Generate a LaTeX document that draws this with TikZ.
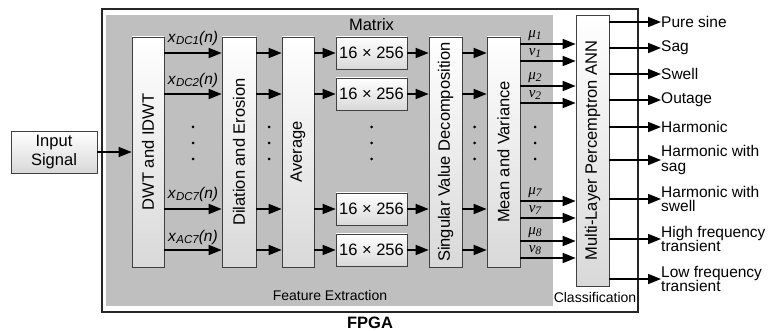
\documentclass[tikz,border=0pt]{standalone}
\usepackage{fontspec}
\setmainfont{Liberation Sans}
\newfontfamily\serifit{Liberation Serif}
\usetikzlibrary{arrows.meta}
\begin{document}
\begin{tikzpicture}[x=1pt,y=-1pt,
  every node/.style={font=\fontsize{16.5}{18}\selectfont},
  box/.style={draw=black!75,line width=0.7pt,top color=white,bottom color=black!15,inner sep=0pt},
  arr/.style={line width=1.7pt,-{Triangle[length=13pt,width=10pt]}},
  dotc/.style={circle,fill=black,inner sep=0pt,minimum size=3pt},
  olab/.style={anchor=west,align=left,inner sep=0pt,font=\fontsize{15.5}{14.5}\selectfont},
  sub/.style={inner sep=0pt,font=\fontsize{15.5}{15}\selectfont},
  mu/.style={inner sep=0pt,font=\fontsize{15}{14}\serifit\itshape},
  capt/.style={inner sep=0pt,font=\fontsize{14}{14}\selectfont}]
\useasboundingbox (0,0) rectangle (769,331);
% outer FPGA box and gray area
\draw[line width=1.2pt,black!85] (102,9) rectangle (638,312);
\fill[black!25] (106,15) rectangle (553,306);
\node[capt] (fe) at (330,295) {Feature Extraction};
\node[capt] (cl) at (595,297) {Classification};
\node[inner sep=0pt,font=\fontsize{16.5}{16}\selectfont\bfseries] (fpga) at (370,323) {FPGA};
\node[inner sep=0pt] (mat) at (371.5,25) {Matrix};
% boxes
\node[box,align=center,minimum width=86pt,minimum height=42pt,font=\fontsize{16.5}{19}\selectfont] (in) at (54,152) {Input\\Signal};
\node[box,minimum width=32pt,minimum height=230pt] (dwt) at (148,152) {\rotatebox{90}{DWT and IDWT}};
\node[box,minimum width=34pt,minimum height=230pt] (dil) at (239,152) {\rotatebox{90}{Dilation and Erosion}};
\node[box,minimum width=32pt,minimum height=230pt] (avg) at (298,152) {\rotatebox{90}{Average}};
\node[box,minimum width=33pt,minimum height=230pt] (svd) at (445.5,152) {\rotatebox{90}{Singular Value Decomposition}};
\node[box,minimum width=33pt,minimum height=230pt] (mv) at (503.5,152) {\rotatebox{90}{Mean and Variance}};
\node[box,minimum width=33pt,minimum height=271pt] (mlp) at (592.5,150.5) {\rotatebox{90}{Multi-Layer Percemptron ANN}};
\foreach \n/\y in {m1/53,m2/94,m3/209,m4/250}
  \node[box,minimum width=71pt,minimum height=32pt] (\n) at (371.5,\y) {16 × 256};
% input arrow
\draw[arr] (in.east) -- (dwt.west|-in.east);
% row arrows
\foreach \n in {m1,m2,m3,m4}{
  \draw[arr] (dwt.east|-\n) -- (dil.west|-\n);
  \draw[arr] (dil.east|-\n) -- (avg.west|-\n);
  \draw[arr] (avg.east|-\n) -- (\n.west);
  \draw[arr] (\n.east) -- (svd.west|-\n);
  \draw[arr] (svd.east|-\n) -- (mv.west|-\n);
}
% signal labels
\node[sub] (x1) at (193,38) {\textit{x}{\fontsize{11.5}{11}\selectfont\textit{\raisebox{-2.5pt}{DC1}}}\textit{(n)}};
\node[sub] (x2) at (193,80) {\textit{x}{\fontsize{11.5}{11}\selectfont\textit{\raisebox{-2.5pt}{DC2}}}\textit{(n)}};
\node[sub] (x3) at (193,194) {\textit{x}{\fontsize{11.5}{11}\selectfont\textit{\raisebox{-2.5pt}{DC7}}}\textit{(n)}};
\node[sub] (x4) at (193,237) {\textit{x}{\fontsize{11.5}{11}\selectfont\textit{\raisebox{-2.5pt}{AC7}}}\textit{(n)}};
% mean/variance outputs
\foreach \c/\y/\g/\k in {a/44/μ/1,b/61/ν/1,c/86/μ/2,d/103/ν/2,e/201/μ/7,f/218/ν/7,g/241/μ/8,h/258/ν/8}{
  \coordinate (p\c) at (0,\y);
  \draw[arr] (mv.east|-p\c) -- (mlp.west|-p\c);
  \node[mu] (l\c) at (535,\y-8) {\g\raisebox{-1.5pt}{\fontsize{11.5}{11}\selectfont\k}};
}
% dots
\foreach \x [count=\i] in {193,269,371.5,474.5,535}
  \foreach \y [count=\j] in {127,143,159}
    \node[dotc] (d\i\j) at (\x,\y) {};
% outputs
\foreach \n/\y/\t in {o1/22/Pure sine,o2/48/Sag,o3/74/Swell,o4/100/Outage,o5/127/Harmonic,
                      o6/160/Harmonic with\\sag,o7/199/Harmonic with\\swell,
                      o8/239/High frequency\\transient,o9/279/Low frequency\\transient}{
  \node[olab] (\n) at (661,\y) {\t};
  \draw[arr] (mlp.east|-\n.west) -- (\n.west);
}
\end{tikzpicture}
\end{document}
